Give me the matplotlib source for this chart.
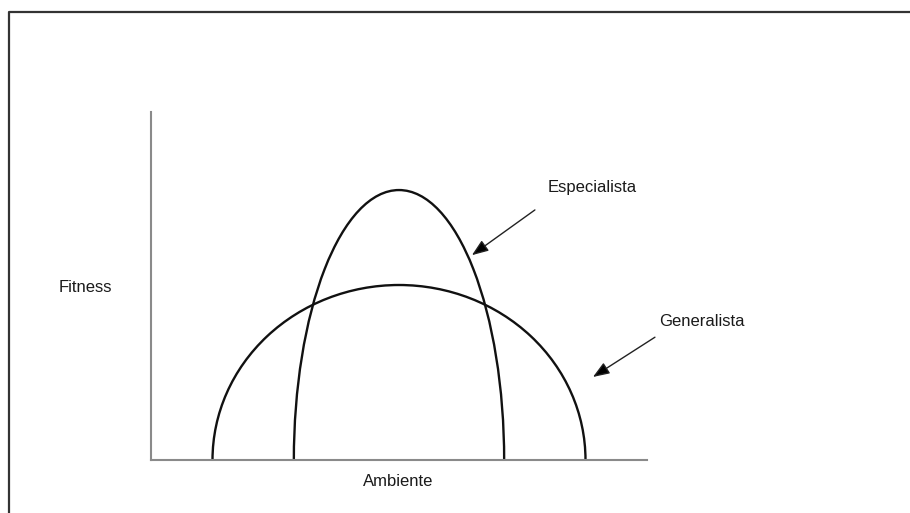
import matplotlib
matplotlib.use("Agg")
import matplotlib.pyplot as plt
from matplotlib.patches import Arc
from matplotlib.lines import Line2D

plt.rcParams['font.family'] = ['Liberation Sans', 'DejaVu Sans']

# Data (axis units: x 0..10, y 0..7)
curve_names = ["Generalista", "Especialista"]
niche_center = [5.0, 5.0]
niche_width = [7.52, 4.24]
peak_fitness = [3.52, 5.43]

label_pos = [(11.11, 2.78), (8.89, 5.49)]
arrow_start = [(10.16, 2.47), (7.74, 5.03)]
arrow_tip = [(8.91, 1.67), (6.47, 4.12)]

x_label = "Ambiente"
y_label = "Fitness"

W, H = 910, 513
fig = plt.figure(figsize=(W / 100, H / 100), dpi=100)
fig.patch.set_facecolor("white")

ax = fig.add_axes([151 / W, (H - 460) / H, 496 / W, 348 / H])
ax.set_xlim(0, 10)
ax.set_ylim(0, 7)
for s in ["top", "right"]:
    ax.spines[s].set_visible(False)
for s in ["left", "bottom"]:
    ax.spines[s].set_color("#8a8a8a")
    ax.spines[s].set_linewidth(1.5)
ax.set_xticks([])
ax.set_yticks([])
ax.patch.set_alpha(0)

for c, w, h in zip(niche_center, niche_width, peak_fitness):
    ax.add_patch(Arc((c, 0.0), w, 2 * h, theta1=0, theta2=180,
                     color="#111111", lw=1.7))

for name, lp, st, tp in zip(curve_names, label_pos, arrow_start, arrow_tip):
    ax.text(lp[0], lp[1], name, ha="center", va="center", fontsize=12,
            color="#1a1a1a", clip_on=False)
    ax.annotate("", xy=tp, xytext=st, annotation_clip=False,
                arrowprops=dict(arrowstyle="-|>,head_length=1.0,head_width=0.38",
                                color="#555555", lw=1.0, shrinkA=0, shrinkB=0,
                                fc="black", ec="#222222"))

ax.text(-1.33, 3.46, y_label, ha="center", va="center", fontsize=12,
        color="#1a1a1a", clip_on=False)
ax.text(4.98, -0.44, x_label, ha="center", va="center", fontsize=12,
        color="#1a1a1a", clip_on=False)

# outer frame (cropped on right and bottom)
fx = 8.5 / W
fy = 1 - 11.5 / H
fig.add_artist(Line2D([fx, fx, 1.0], [0.0, fy, fy], transform=fig.transFigure,
                      color="#333333", lw=1.6))

fig.savefig("out.png", dpi=100)
